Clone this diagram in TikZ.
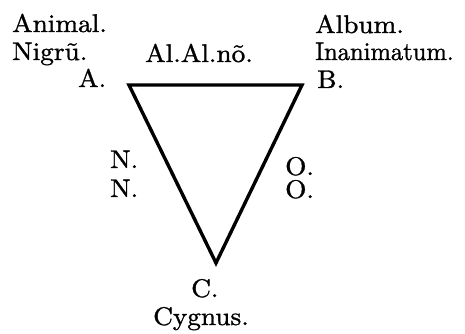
\documentclass[tikz,border=0pt]{standalone}
\usepackage{fontspec}
\usepackage{graphicx}
\setmainfont{lmroman10-regular}[Extension=.otf,FakeStretch=1.07,FakeBold=1.2]
\begin{document}
\begin{tikzpicture}[x=1pt,y=-1pt,
  lbl/.style={anchor=base west,inner sep=0pt,font=\fontsize{25.5}{28}\selectfont},
  edge/.style={line width=3.4pt,line join=miter}]
\useasboundingbox (0,0) rectangle (465,334);
\coordinate (vA) at (129,85);
\coordinate (vB) at (302,85);
\coordinate (vC) at (216,263);
\draw[edge] (vA) -- (vB) -- (vC) -- cycle;
\node[lbl] (animal) at (12,32) {Animal.};
\node[lbl] (nigrum) at (12,60) {Nigr\~u.};
\node[lbl] (a) at (78,87) {A.};
\node[lbl] (alal) at (145,62) {Al.Al.n\~o.};
\node[lbl] (album) at (315,33) {Album.};
\node[lbl] (inan) at (315,60) {\scalebox{0.9}[1]{Inanimatum.}};
\node[lbl] (b) at (317,88) {B.};
\node[lbl] (n1) at (110,168) {N.};
\node[lbl] (n2) at (110,197) {N.};
\node[lbl] (o1) at (285,175) {O.};
\node[lbl] (o2) at (285,198) {O.};
\node[lbl] (c) at (191,297) {C.};
\node[lbl] (cyg) at (153,325) {Cygnus.};
\end{tikzpicture}
\end{document}
